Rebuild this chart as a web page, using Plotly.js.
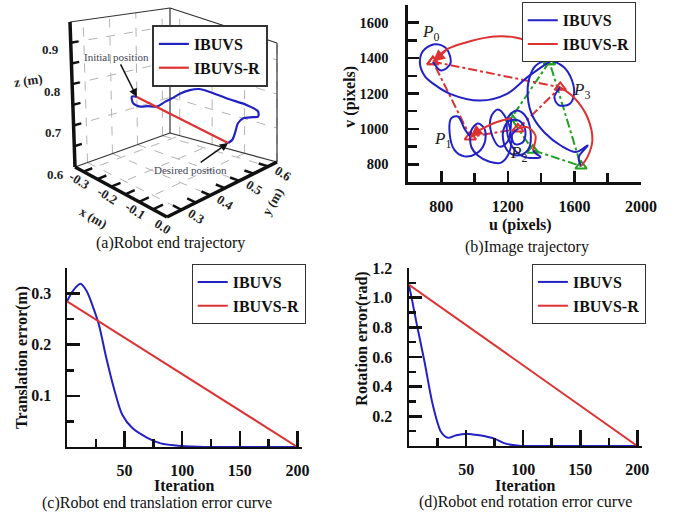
<!DOCTYPE html>
<html><head><meta charset="utf-8">
<script src="https://cdn.plot.ly/plotly-3.0.1.min.js"></script>
<style>html,body{margin:0;padding:0;background:#fff;} #chart{width:675px;height:518px;}</style>
</head><body><div id="chart"></div>
<script>
// ---------- (a) Robot end trajectory (3D, metres) ----------
const trajX_ibuvs = [-0.173,-0.181,-0.163,-0.142,-0.143,-0.135,-0.145,-0.146,-0.147,-0.140,-0.126,-0.127,-0.102,-0.037,-0.047,-0.051,-0.029,-0.068,-0.083,-0.072,-0.049,-0.042];
const trajY_ibuvs = [0.3245,0.315,0.300,0.303,0.332,0.356,0.396,0.426,0.452,0.480,0.498,0.538,0.568,0.568,0.617,0.622,0.579,0.589,0.587,0.564,0.530,0.507];
const trajZ_ibuvs = [0.810,0.810,0.803,0.801,0.796,0.7925,0.7925,0.796,0.801,0.8065,0.810,0.7925,0.775,0.775,0.740,0.7225,0.740,0.7225,0.705,0.6875,0.6875,0.6875];
const trajX_ibuvsR = [-0.173,-0.042];
const trajY_ibuvsR = [0.3245,0.507];
const trajZ_ibuvsR = [0.810,0.6875];
const ticksX3d = [-0.3,-0.2,-0.1,0.0];
const ticksY3d = [0.3,0.4,0.5,0.6];
const ticksZ3d = [0.6,0.7,0.8,0.9];
const minorX3d = [-0.3,-0.25,-0.2,-0.15,-0.1,-0.05];
const minorY3d = [0.3,0.35,0.4,0.45,0.5,0.55,0.6];
const minorZ3d = [0.65,0.7,0.75,0.8,0.85,0.9];

// ---------- (b) Image trajectory (pixels) ----------
const initU = [750,1515,1260,975];      // P0, P3, P2, P1
const initV = [1380,1235,1000,955];
const desU  = [1450,1220,1350,1640];
const desV  = [1380,1060,880,790];
const ibuvsU_p0 = [750,800,855,830,760,690,672,700,760,853,1034,1195,1316,1450];
const ibuvsV_p0 = [1380,1330,1370,1455,1478,1440,1370,1300,1250,1198,1160,1198,1291,1380];
const ibuvsU_p1 = [975,940,900,860,850,880,940,1010,1060,1060,1020,980,980,1020,1090,1160,1210,1220,1190,1140,1100,1100,1150,1200,1220];
const ibuvsV_p1 = [955,1000,1070,1060,980,880,845,860,920,1000,1030,990,900,850,815,810,870,960,1060,1110,1070,980,900,930,1060];
const ibuvsU_p2 = [1260,1225,1240,1290,1305,1270,1205,1170,1195,1256,1320,1336,1300,1250,1200,1210,1290,1396,1370,1350];
const ibuvsV_p2 = [1000,965,915,925,990,1045,1045,975,880,850,880,990,1080,1104,1060,930,845,841,860,880];
const ibuvsU_p3 = [1515,1480,1505,1570,1598,1585,1537,1450,1370,1330,1320,1350,1420,1520,1610,1680,1626,1640];
const ibuvsV_p3 = [1235,1180,1135,1140,1200,1275,1348,1385,1360,1290,1180,1070,980,905,870,907,841,790];
const ibuvsRU_p0 = [750,841,984,1120,1245,1360,1420,1450];
const ibuvsRV_p0 = [1380,1453,1498,1522,1517,1480,1430,1385];
const ibuvsRU_p1 = [975,1015,1065,1115,1165,1220];
const ibuvsRV_p1 = [955,985,1010,1032,1048,1060];
const ibuvsRU_p2 = [1260,1316,1366,1356,1350];
const ibuvsRV_p2 = [1000,1010,963,897,880];
const ibuvsRU_p3 = [1515,1596,1678,1708,1678,1640];
const ibuvsRV_p3 = [1235,1179,1066,935,841,790];
const pointLabels = ['0','3','2','1'];

// ---------- (c) Translation error ----------
const transIter_ibuvs = [0,5,11.7,17,21.9,27.7,33.5,40.7,48,56.7,69.7,81.3,98.6,120,150,200];
const transErr_ibuvs  = [0.285,0.305,0.319,0.305,0.278,0.239,0.180,0.115,0.063,0.037,0.018,0.007,0.002,0,0,0];
const transIter_ibuvsR = [0,200];
const transErr_ibuvsR  = [0.285,0];

// ---------- (d) Rotation error ----------
const rotIter_ibuvs = [0,3,6.4,13.6,20.9,28.1,34,41.3,50,61.6,74.6,84.7,96.4,120,200];
const rotErr_ibuvs  = [1.082,0.97,0.835,0.566,0.274,0.094,0.055,0.072,0.083,0.072,0.050,0.016,0.002,0,0];
const rotIter_ibuvsR = [0,200];
const rotErr_ibuvsR  = [1.087,0];

const iterTicks = [50,100,150,200];
const iterMinor = [0,25,75,125,175];
const transTicks = [0.1,0.2,0.3];
const transMinor = [0.05,0.15,0.25,0.35];
const rotTicks = [0.2,0.4,0.6,0.8,1.0,1.2];
const rotMinor = [0.1,0.3,0.5,0.7,0.9,1.1];

// ---------- styles ----------
const F = '"Liberation Serif", "Times New Roman", serif';
const BLUE = '#2222c4', RED = '#de3232', GREEN = '#24a024';
const LW = 2;

// ---------- (a) projection of the 3D box onto its 2D panel (camera) ----------
const box3d = {x:[-0.33,0.0], y:[0.25,0.63], z:[0.6,0.95]};
// screen pixels of box corners, order (u,v,t): 000,100,110,010,001,101,111,011
const cornerPx = [[75,167],[167,217],[277,162],[170,133],[70,22],[164,68],[277,43],[170,8]];
function proj(x,y,z){
  const u=(x-box3d.x[0])/(box3d.x[1]-box3d.x[0]);
  const v=(y-box3d.y[0])/(box3d.y[1]-box3d.y[0]);
  const t=(z-box3d.z[0])/(box3d.z[1]-box3d.z[0]);
  const w=[(1-u)*(1-v)*(1-t), u*(1-v)*(1-t), u*v*(1-t), (1-u)*v*(1-t), (1-u)*(1-v)*t, u*(1-v)*t, u*v*t, (1-u)*v*t];
  let X=0, Y=0;
  w.forEach((wi,i)=>{X+=wi*cornerPx[i][0]; Y+=wi*cornerPx[i][1];});
  return [X,Y];
}
function projLine(xs,ys,zs){
  const X=[], Y=[];
  xs.forEach((x,i)=>{const p=proj(x,ys[i],zs[i]); X.push(p[0]); Y.push(p[1]);});
  return {X,Y};
}
function segTrace(segs, line){
  const X=[], Y=[];
  segs.forEach(s=>{const a=proj(...s[0]), b=proj(...s[1]); X.push(a[0],b[0],null); Y.push(a[1],b[1],null);});
  return {type:'scatter', mode:'lines', x:X, y:Y, xaxis:'x4', yaxis:'y4', showlegend:false, hoverinfo:'skip', line:line};
}
const [x0,x1]=box3d.x, [y0,y1]=box3d.y, [z0,z1]=box3d.z;

const traces = [];
// grid (dashed) on floor and two back walls
const gridSegs = [];
ticksX3d.forEach(x=>{ gridSegs.push([[x,y0,z0],[x,y1,z0]]); gridSegs.push([[x,y1,z0],[x,y1,z1]]); });
ticksY3d.forEach(y=>{ gridSegs.push([[x0,y,z0],[x1,y,z0]]); gridSegs.push([[x0,y,z0],[x0,y,z1]]); });
ticksZ3d.slice(1).forEach(z=>{ gridSegs.push([[x0,y0,z],[x0,y1,z]]); gridSegs.push([[x0,y1,z],[x1,y1,z]]); });
traces.push(segTrace(gridSegs, {color:'#b4b4b4', width:1, dash:'dash'}));
// thin box edges
traces.push(segTrace([[[x0,y0,z0],[x0,y1,z0]],[[x0,y1,z0],[x1,y1,z0]],[[x0,y1,z0],[x0,y1,z1]],[[x1,y1,z0],[x1,y1,z1]],
  [[x0,y0,z1],[x0,y1,z1]],[[x0,y1,z1],[x1,y1,z1]]], {color:'#333', width:1.2}));
// thick axes
traces.push(segTrace([[[x0,y0,z0],[x0,y0,z1]],[[x0,y0,z0],[x1,y0,z0]],[[x1,y0,z0],[x1,y1,z0]]], {color:'#111', width:3.5}));
// tick marks
const tk = [];
minorZ3d.forEach(z=>tk.push([[x0,y0,z],[x0,y0+0.03,z]]));
minorX3d.forEach(x=>tk.push([[x,y0,z0],[x,y0+0.035,z0]]));
minorY3d.forEach(y=>tk.push([[x1,y,z0],[x1-0.03,y,z0]]));
traces.push(segTrace(tk, {color:'#111', width:2.5}));
// trajectories
const pB = projLine(trajX_ibuvs, trajY_ibuvs, trajZ_ibuvs);
const pR = projLine(trajX_ibuvsR, trajY_ibuvsR, trajZ_ibuvsR);
traces.push({type:'scatter', mode:'lines', x:pB.X, y:pB.Y, xaxis:'x4', yaxis:'y4', name:'IBUVS',
  line:{color:BLUE, width:2.2, shape:'spline', smoothing:0.8}, legend:'legend'});
traces.push({type:'scatter', mode:'lines', x:pR.X, y:pR.Y, xaxis:'x4', yaxis:'y4', name:'IBUVS-R',
  line:{color:RED, width:2.2}, legend:'legend'});

// ---------- (b) ----------
const closeArr = a => a.concat([a[0]]);
traces.push({type:'scatter', mode:'lines+markers', x:closeArr(desU), y:closeArr(desV), xaxis:'x', yaxis:'y',
  line:{color:GREEN, width:LW, dash:'dashdot'}, marker:{symbol:'triangle-up-open', size:10, color:GREEN, line:{width:2}},
  showlegend:false, legend:'legend2'});
traces.push({type:'scatter', mode:'lines+markers', x:closeArr(initU), y:closeArr(initV), xaxis:'x', yaxis:'y',
  line:{color:RED, width:LW, dash:'dashdot'}, marker:{symbol:'triangle-up-open', size:10, color:RED, line:{width:2}},
  showlegend:false, legend:'legend2'});
const blues = [[ibuvsU_p0,ibuvsV_p0],[ibuvsU_p1,ibuvsV_p1],[ibuvsU_p2,ibuvsV_p2],[ibuvsU_p3,ibuvsV_p3]];
const reds = [[ibuvsRU_p0,ibuvsRV_p0],[ibuvsRU_p1,ibuvsRV_p1],[ibuvsRU_p2,ibuvsRV_p2],[ibuvsRU_p3,ibuvsRV_p3]];
blues.forEach((b,i)=>traces.push({type:'scatter', mode:'lines', x:b[0], y:b[1], xaxis:'x', yaxis:'y',
  line:{color:BLUE, width:LW, shape:'spline', smoothing:1}, name:'IBUVS', showlegend:i===0, legend:'legend2'}));
reds.forEach((r,i)=>traces.push({type:'scatter', mode:'lines', x:r[0], y:r[1], xaxis:'x', yaxis:'y',
  line:{color:RED, width:LW, shape:'spline', smoothing:1}, name:'IBUVS-R', showlegend:i===0, legend:'legend2'}));

// ---------- (c) ----------
traces.push({type:'scatter', mode:'lines', x:transIter_ibuvs, y:transErr_ibuvs, xaxis:'x2', yaxis:'y2', name:'IBUVS',
  line:{color:BLUE, width:LW, shape:'spline', smoothing:0.8}, legend:'legend3'});
traces.push({type:'scatter', mode:'lines', x:transIter_ibuvsR, y:transErr_ibuvsR, xaxis:'x2', yaxis:'y2', name:'IBUVS-R',
  line:{color:RED, width:LW}, legend:'legend3'});
// ---------- (d) ----------
traces.push({type:'scatter', mode:'lines', x:rotIter_ibuvs, y:rotErr_ibuvs, xaxis:'x3', yaxis:'y3', name:'IBUVS',
  line:{color:BLUE, width:LW, shape:'spline', smoothing:0.8}, legend:'legend4'});
traces.push({type:'scatter', mode:'lines', x:rotIter_ibuvsR, y:rotErr_ibuvsR, xaxis:'x3', yaxis:'y3', name:'IBUVS-R',
  line:{color:RED, width:LW}, legend:'legend4'});

const tickFont = {family:F, size:16, weight:'bold', color:'#111'};
function ax2d(extra){
  return Object.assign({showline:true, linecolor:'#111', linewidth:2.5, ticks:'inside', tickcolor:'#111', tickwidth:2.5,
    ticklen:13, showgrid:false, zeroline:false, tickfont:tickFont, fixedrange:true}, extra);
}
function legendCfg(x,y,bw,size){
  return {x:x, y:y, xanchor:'left', yanchor:'top', bgcolor:'#fff', bordercolor:'#333', borderwidth:bw,
    font:{family:F, size:size, weight:'bold', color:'#111'}, tracegroupgap:0, itemclick:false};
}

const capFont = {family:F, size:16, color:'#111'};
const titFont = {family:F, size:16, weight:'bold', color:'#111'};
const lbl3d = {family:F, size:13, weight:'bold', color:'#222'};
function pa(x,y,text,font,extra){
  return Object.assign({xref:'paper', yref:'paper', x:x, y:y, text:text, showarrow:false, font:font, xanchor:'center', yanchor:'middle'}, extra||{});
}
function a4(p,dx,dy,text,font,angle){
  return {xref:'x4', yref:'y4', x:p[0]+dx, y:p[1]+dy, text:text, showarrow:false, font:font, xanchor:'center', yanchor:'middle', textangle:angle||0};
}
const annotations = [
  pa(0.2519, 0.531, '(a)Robot end trajectory', capFont),
  pa(0.7807, 0.523, '(b)Image trajectory', capFont),
  pa(0.2326, 0.029, '(c)Robot end translation error curve', capFont),
  pa(0.7778, 0.031, '(d)Robot end rotation error curve', capFont),
  pa(0.7704, 0.5656, 'u (pixels)', titFont),
  pa(0.5185, 0.8134, 'v (pixels)', titFont, {textangle:-90}),
  pa(0.2726, 0.0637, 'Iteration', titFont),
  pa(0.7778, 0.0637, 'Iteration', titFont),
  pa(0.0326, 0.309, 'Translation error(m)', titFont, {textangle:-90}),
  pa(0.5358, 0.3456, 'Rotation error(rad)', titFont, {textangle:-90}),
];
// (a) tick labels and axis titles
ticksZ3d.forEach(z=>annotations.push(a4(proj(x0,y0,z),-20,7,z.toFixed(1),lbl3d,0)));
ticksX3d.forEach(x=>annotations.push(a4(proj(x,y0,z0),-4,9,x.toFixed(1),lbl3d,32)));
ticksY3d.forEach(y=>annotations.push(a4(proj(x1,y,z0),15,7,y.toFixed(1),lbl3d,32)));
annotations.push(a4(proj((x0+x1)/2,y0,z0),-28,25,'x (m)',lbl3d,30));
annotations.push(a4(proj(x1,y1,z0),-5,40,'y (m)',lbl3d,-60));
annotations.push(a4(proj(x0,y0,0.8),-44,-4,'z (m)',lbl3d,-8));
const pStart = proj(trajX_ibuvsR[0],trajY_ibuvsR[0],trajZ_ibuvsR[0]);
const pEnd = proj(trajX_ibuvsR[1],trajY_ibuvsR[1],trajZ_ibuvsR[1]);
annotations.push({xref:'x4', yref:'y4', x:pStart[0], y:pStart[1], text:'Initial position', showarrow:true, ax:-20, ay:-40,
  arrowhead:2, arrowsize:1.1, arrowwidth:1.5, arrowcolor:'#111', font:{family:F, size:11, color:'#445'}});
annotations.push({xref:'x4', yref:'y4', x:pEnd[0], y:pEnd[1], text:'Desired position', showarrow:true, ax:-38, ay:27,
  arrowhead:2, arrowsize:1.1, arrowwidth:1.5, arrowcolor:'#111', font:{family:F, size:11, color:'#445'}});
// (b) P labels
const labelOffsets = [[-15,160],[125,-20],[5,-140],[-165,-20]];
initU.forEach((u,i)=>annotations.push({xref:'x', yref:'y', x:u+labelOffsets[i][0], y:initV[i]+labelOffsets[i][1],
  text:'<i>P</i><sub>'+pointLabels[i]+'</sub>', showarrow:false, font:{family:F, size:17, color:'#222'}}));
// direction arrows on IBUVS-R curves
[[ibuvsRU_p0,ibuvsRV_p0],[ibuvsRU_p1,ibuvsRV_p1]].forEach(r=>annotations.push({xref:'x', yref:'y', axref:'x', ayref:'y',
  x:r[0][0], y:r[1][0], ax:r[0][1], ay:r[1][1], text:'', showarrow:true, arrowhead:2, arrowsize:1.2, arrowwidth:2, arrowcolor:RED}));

const layout = {
  width:675, height:518, margin:{l:0, r:0, t:0, b:0}, paper_bgcolor:'#fff', plot_bgcolor:'rgba(0,0,0,0)',
  hovermode:false,
  xaxis4:{domain:[0,0.5], anchor:'y4', range:[0,337.5], visible:false, fixedrange:true},
  yaxis4:{domain:[0.5,1], anchor:'x4', range:[259,0], visible:false, fixedrange:true},
  xaxis: ax2d({domain:[0.6044,0.9496], anchor:'y', range:[600,2000], tickvals:[800,1200,1600,2000], ticklen:11, ticklabelstandoff:8,
    minor:{tickvals:[600,1000,1400,1800], ticklen:9, tickwidth:2.5, tickcolor:'#111', ticks:'inside'}}),
  yaxis: ax2d({domain:[0.6486,0.9903], anchor:'x', range:[700,1700], tickvals:[800,1000,1200,1400,1600], ticklen:11, ticklabelstandoff:14,
    tickfont:{family:F, size:14.5, weight:'bold', color:'#111'},
    minor:{tickvals:[900,1100,1300,1500,1700], ticklen:9, tickwidth:2.5, tickcolor:'#111', ticks:'inside'}}),
  xaxis2: ax2d({domain:[0.0993,0.4474], anchor:'y2', range:[0,204], tickvals:iterTicks, ticklen:16, ticklabelstandoff:7,
    minor:{tickvals:iterMinor, ticklen:8, tickwidth:2.5, tickcolor:'#111', ticks:'inside'}}),
  yaxis2: ax2d({domain:[0.1371,0.4826], anchor:'x2', range:[0,0.35], tickvals:transTicks, ticktext:transTicks.map(v=>v.toFixed(1)), ticklen:13,
    ticklabelstandoff:10, minor:{tickvals:transMinor, ticklen:7, tickwidth:2.5, tickcolor:'#111', ticks:'inside'}}),
  xaxis3: ax2d({domain:[0.606,0.951], anchor:'y3', range:[0,204], tickvals:iterTicks, ticklen:16, ticklabelstandoff:7,
    minor:{tickvals:iterMinor, ticklen:8, tickwidth:2.5, tickcolor:'#111', ticks:'inside'}}),
  yaxis3: ax2d({domain:[0.139,0.4826], anchor:'x3', range:[0,1.2], tickvals:rotTicks, ticktext:rotTicks.map(v=>v.toFixed(1)), ticklen:13,
    ticklabelstandoff:11, minor:{tickvals:rotMinor, ticklen:7, tickwidth:2.5, tickcolor:'#111', ticks:'inside'}}),
  legend: legendCfg(0.225, 0.9517, 2, 16),
  legend2: legendCfg(0.773, 0.9956, 1, 16),
  legend3: legendCfg(0.284, 0.4903, 1, 16),
  legend4: legendCfg(0.788, 0.4903, 1, 16),
  annotations: annotations,
  showlegend:true
};

Plotly.newPlot('chart', traces, layout, {displayModeBar:false, staticPlot:true});
</script>
</body></html>
